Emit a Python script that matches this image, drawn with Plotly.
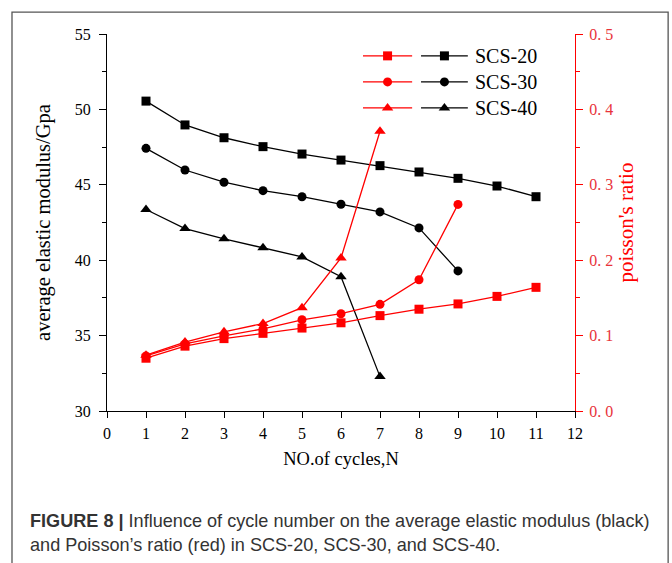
import plotly.graph_objects as go

# Number of loading cycles for each specimen group
cycles_20 = [1, 2, 3, 4, 5, 6, 7, 8, 9, 10, 11]
cycles_30 = [1, 2, 3, 4, 5, 6, 7, 8, 9]
cycles_40 = [1, 2, 3, 4, 5, 6, 7]

# Average elastic modulus (GPa)
modulus_20 = [50.55, 48.97, 48.12, 47.53, 47.04, 46.64, 46.27, 45.85, 45.43, 44.92, 44.21]
modulus_30 = [47.42, 45.98, 45.17, 44.61, 44.21, 43.71, 43.20, 42.14, 39.29]
modulus_40 = [43.36, 42.10, 41.42, 40.82, 40.22, 38.90, 32.28]

# Poisson's ratio
poisson_20 = [0.070, 0.086, 0.096, 0.103, 0.110, 0.117, 0.1265, 0.135, 0.142, 0.152, 0.164]
poisson_30 = [0.073, 0.089, 0.0995, 0.109, 0.121, 0.129, 0.1415, 0.174, 0.274]
poisson_40 = [0.074, 0.0915, 0.105, 0.116, 0.137, 0.203, 0.371]

series_names = ["SCS-20", "SCS-30", "SCS-40"]
symbols = ["square", "circle", "triangle-up"]

x_ticks = list(range(0, 13))
modulus_ticks = [30, 35, 40, 45, 50, 55]
poisson_ticks = [0.0, 0.1, 0.2, 0.3, 0.4, 0.5]

BLACK = "#000000"
RED = "#ff0000"
SERIF = "Liberation Serif, Times New Roman, serif"
SANS = "Liberation Sans, Arial, sans-serif"


def marker_size(sym):
    return 10 if sym == "triangle-up" else 9


fig = go.Figure()

groups = [
    (cycles_20, modulus_20, poisson_20),
    (cycles_30, modulus_30, poisson_30),
    (cycles_40, modulus_40, poisson_40),
]

# Poisson's ratio curves (right axis, red)
for (x, _, nu), sym in zip(groups, symbols):
    fig.add_trace(go.Scatter(
        x=x, y=nu, yaxis="y2", mode="lines+markers",
        line=dict(color=RED, width=1.3),
        marker=dict(symbol=sym, size=marker_size(sym), color=RED),
        showlegend=False, cliponaxis=False,
    ))

# Elastic modulus curves (left axis, black)
for (x, e, _), sym in zip(groups, symbols):
    fig.add_trace(go.Scatter(
        x=x, y=e, mode="lines+markers",
        line=dict(color=BLACK, width=1.3),
        marker=dict(symbol=sym, size=marker_size(sym), color=BLACK),
        showlegend=False, cliponaxis=False,
    ))

# Hand-built legend: red sample, black sample, then the group label
leg_rows = [0.942, 0.873, 0.804]
red_seg = (0.547, 0.652)
black_seg = (0.671, 0.771)
for name, sym, ry in zip(series_names, symbols, leg_rows):
    for (x0, x1), col in ((red_seg, RED), (black_seg, BLACK)):
        fig.add_trace(go.Scatter(
            x=[x0, x1], y=[ry, ry], xaxis="x3", yaxis="y3", mode="lines",
            line=dict(color=col, width=1.3), showlegend=False, hoverinfo="skip",
        ))
        fig.add_trace(go.Scatter(
            x=[(x0 + x1) / 2], y=[ry], xaxis="x3", yaxis="y3", mode="markers",
            marker=dict(symbol=sym, size=marker_size(sym), color=col),
            showlegend=False, hoverinfo="skip",
        ))
    fig.add_annotation(
        x=0.783, y=ry, xref="x3", yref="y3", text=name, showarrow=False,
        xanchor="left", yanchor="middle", font=dict(family=SERIF, size=20, color=BLACK),
    )

fig.update_layout(
    width=672, height=563,
    margin=dict(l=107, r=97, t=34, b=152),
    paper_bgcolor="white", plot_bgcolor="white",
    font=dict(family=SERIF, color=BLACK),
    xaxis=dict(
        range=[0, 12], tickvals=x_ticks, ticks="outside", ticklen=6, tickwidth=1.2,
        tickcolor=BLACK, showline=True, linecolor=BLACK, linewidth=1.3,
        showgrid=False, zeroline=False, tickfont=dict(size=16), ticklabelstandoff=2,
        title=dict(text="NO.of cycles,N", font=dict(size=18.5), standoff=10),
    ),
    yaxis=dict(
        range=[30, 55], tickvals=modulus_ticks, ticks="outside", ticklen=7, tickwidth=1.2,
        tickcolor=BLACK, showline=True, linecolor=BLACK, linewidth=1.3,
        showgrid=False, zeroline=False, tickfont=dict(size=16), ticklabelstandoff=5,
        minor=dict(dtick=2.5, ticks="outside", ticklen=4, tickcolor=BLACK, tickwidth=1.2),
        title=dict(text="average elastic modulus/Gpa", font=dict(size=20.5), standoff=18),
    ),
    yaxis2=dict(
        range=[0, 0.5], overlaying="y", side="right", anchor="x",
        tickvals=poisson_ticks,
        ticktext=[f"{v:.1f}".replace(".", ". ") for v in poisson_ticks],
        ticks="outside", ticklen=7, tickwidth=1.2, tickcolor=RED,
        showline=True, linecolor=RED, linewidth=1.3,
        showgrid=False, zeroline=False, tickfont=dict(size=16, color="#e8333a"),
        ticklabelstandoff=3,
        minor=dict(dtick=0.05, ticks="outside", ticklen=4, tickcolor=RED, tickwidth=1.2),
        title=dict(text="poisson's ratio", font=dict(size=21, color=RED), standoff=5),
    ),
    xaxis3=dict(range=[0, 1], overlaying="x", visible=False),
    yaxis3=dict(range=[0, 1], overlaying="y", visible=False),
)

# Figure frame
fig.add_shape(type="rect", xref="paper", yref="paper",
              x0=-0.203, x1=1.199, y0=-0.45, y1=1.058,
              line=dict(color="#555555", width=1.3), layer="below")

# Caption
fig.add_annotation(
    x=-0.169, y=-0.292, xref="paper", yref="paper", showarrow=False,
    xanchor="left", yanchor="middle", align="left",
    text="<b>FIGURE 8 |</b> Influence of cycle number on the average elastic modulus (black)",
    font=dict(family=SANS, size=18.1, color="#333333"),
)
fig.add_annotation(
    x=-0.169, y=-0.355, xref="paper", yref="paper", showarrow=False,
    xanchor="left", yanchor="middle", align="left",
    text="and Poisson’s ratio (red) in SCS-20, SCS-30, and SCS-40.",
    font=dict(family=SANS, size=18.1, color="#333333"),
)

fig.write_html("out.html")
